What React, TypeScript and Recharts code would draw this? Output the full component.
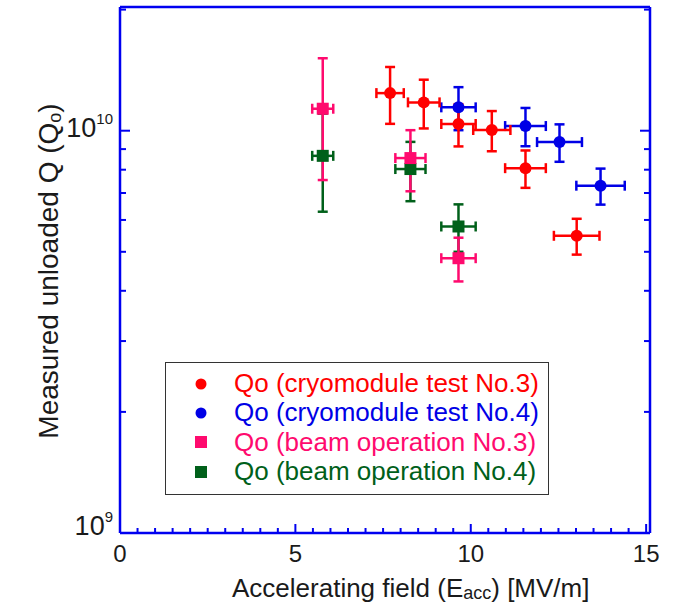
import React from 'react';
import { ScatterChart, Scatter, XAxis, YAxis, ErrorBar, Legend } from 'recharts';

// Qo (cryomodule test No.3)
const cryo3X = [7.7, 8.66, 9.65, 10.6, 11.56, 13.02];
const cryo3Q = [1.24e10, 1.176e10, 1.039e10, 1.004e10, 8.07e9, 5.48e9];
const cryo3Ex = [0.39, 0.45, 0.49, 0.53, 0.58, 0.65];
const cryo3Eq = [2.0e9, 1.63e9, 1.25e9, 1.15e9, 0.86e9, 0.56e9];

// Qo (cryomodule test No.4)
const cryo4X = [9.65, 11.56, 12.53, 13.7];
const cryo4Q = [1.143e10, 1.027e10, 9.37e9, 7.3e9];
const cryo4Ex = [0.49, 0.58, 0.64, 0.69];
const cryo4Eq = [1.4e9, 1.12e9, 1.0e9, 0.75e9];

// Qo (beam operation No.3)
const beam3X = [5.78, 8.28, 9.65];
const beam3Q = [1.134e10, 8.55e9, 4.82e9];
const beam3Ex = [0.3, 0.43, 0.49];
const beam3Eq = [3.8e9, 1.48e9, 0.6e9];

// Qo (beam operation No.4)
const beam4X = [5.78, 8.28, 9.65];
const beam4Q = [8.66e9, 8.03e9, 5.78e9];
const beam4Ex = [0.3, 0.43, 0.49];
const beam4Eq = [2.37e9, 1.35e9, 0.78e9];

const xTicks = [0, 0.5, 1, 1.5, 2, 2.5, 3, 3.5, 4, 4.5, 5, 5.5, 6, 6.5, 7, 7.5, 8, 8.5, 9, 9.5, 10, 10.5, 11, 11.5, 12, 12.5, 13, 13.5, 14, 14.5, 15];
const xLabels = [0, 5, 10, 15];
const yTicks = [1e9, 2e9, 3e9, 4e9, 5e9, 6e9, 7e9, 8e9, 9e9, 1e10, 2e10];
const yLabels = [1e9, 1e10];

const seriesNames = [
  'Qo (cryomodule test No.3)',
  'Qo (cryomodule test No.4)',
  'Qo (beam operation No.3)',
  'Qo (beam operation No.4)',
];

const RED = '#ff0000';
const BLUE = '#0000e6';
const PINK = '#ff0a6e';
const GREEN = '#00601a';
const AXIS = '#0000f0';
const TEXT = '#1a1a1a';
const FONT = 'Arial, "Liberation Sans", sans-serif';

const build = (xs: number[], qs: number[], exs: number[], eqs: number[]) =>
  xs.map((x, i) => ({ x, y: qs[i], ex: exs[i], ey: eqs[i] }));

const cryo3 = build(cryo3X, cryo3Q, cryo3Ex, cryo3Eq);
const cryo4 = build(cryo4X, cryo4Q, cryo4Ex, cryo4Eq);
const beam3 = build(beam3X, beam3Q, beam3Ex, beam3Eq);
const beam4 = build(beam4X, beam4Q, beam4Ex, beam4Eq);

const XTick = (props: any) => {
  const { x, y, payload } = props;
  const v = payload.value;
  const major = xLabels.includes(v);
  const len = major ? 9 : 5;
  return (
    <g>
      {v > 0 ? <line x1={x} x2={x} y1={y} y2={y - len} stroke={AXIS} strokeWidth={2} /> : null}
      {major ? (
        <text x={x} y={y + 29} textAnchor="middle" fontSize={24} fill={TEXT} fontFamily={FONT}>
          {v}
        </text>
      ) : null}
    </g>
  );
};

const YTickL = (props: any) => {
  const { x, y, payload } = props;
  const v = payload.value;
  const major = yLabels.includes(v);
  const len = major ? 10 : 6;
  const exp = Math.round(Math.log10(v));
  return (
    <g>
      {v > 1e9 ? <line x1={x} x2={x + len} y1={y} y2={y} stroke={AXIS} strokeWidth={2} /> : null}
      {major ? (
        <text x={x - 7} y={y + (v === 1e9 ? 2 : 6)} textAnchor="end" fontSize={27} fill={TEXT} fontFamily={FONT}>
          10
          <tspan dy={-13} fontSize={15}>{exp}</tspan>
        </text>
      ) : null}
    </g>
  );
};

const YTickR = (props: any) => {
  const { x, y, payload } = props;
  const v = payload.value;
  const major = yLabels.includes(v);
  const len = major ? 10 : 6;
  return <g>{v > 1e9 ? <line x1={x} x2={x - len} y1={y} y2={y} stroke={AXIS} strokeWidth={2} /> : null}</g>;
};

const Circle = (color: string) => (props: any) => (
  <circle cx={props.cx} cy={props.cy} r={6} fill={color} />
);
const Square = (color: string) => (props: any) => (
  <rect x={props.cx - 6} y={props.cy - 6} width={12} height={12} fill={color} />
);

const XTitle = (props: any) => {
  const { x, y } = props.viewBox;
  return (
    <text x={x + 112} y={y + 64} fontSize={26} fill={TEXT} fontFamily={FONT}>
      Accelerating field (E
      <tspan fontSize={18} dy={2}>acc</tspan>
      <tspan dy={-2}>) [MV/m]</tspan>
    </text>
  );
};

const YTitle = (props: any) => {
  const { y, height } = props.viewBox;
  const cx = 58;
  const cy = y + height / 2 + 1;
  return (
    <text x={cx} y={cy} transform={`rotate(-90 ${cx} ${cy})`} textAnchor="middle" fontSize={28} fill={TEXT} fontFamily={FONT}>
      Measured unloaded Q (Q
      <tspan fontSize={18} dy={3}>o</tspan>
      <tspan dy={-3}>)</tspan>
    </text>
  );
};

const legendItems = [
  { name: seriesNames[0], color: RED, shape: 'circle' },
  { name: seriesNames[1], color: BLUE, shape: 'circle' },
  { name: seriesNames[2], color: PINK, shape: 'square' },
  { name: seriesNames[3], color: GREEN, shape: 'square' },
];

const LegendBox = () => (
  <div
    style={{
      width: 384,
      height: 133,
      boxSizing: 'border-box',
      border: '1.5px solid #333',
      background: '#fff',
      paddingTop: 6,
      fontFamily: FONT,
    }}
  >
    {legendItems.map((it) => (
      <div key={it.name} style={{ display: 'flex', alignItems: 'center', height: 29.3 }}>
        <svg width={68} height={20} style={{ flex: 'none' }}>
          {it.shape === 'circle' ? (
            <circle cx={35} cy={10} r={5.5} fill={it.color} />
          ) : (
            <rect x={29} y={4} width={12} height={12} fill={it.color} />
          )}
        </svg>
        <span style={{ color: it.color, fontSize: 26, whiteSpace: 'nowrap', lineHeight: '29px' }}>{it.name}</span>
      </div>
    ))}
  </div>
);

export default function App() {
  return (
    <div style={{ position: 'absolute', left: 0, top: 0, width: 679, height: 615, background: '#fff' }}>
      <ScatterChart width={679} height={615} margin={{ top: 0, right: 0, bottom: 0, left: 0 }}>
        <XAxis
          xAxisId="top"
          orientation="top"
          type="number"
          dataKey="x"
          domain={[0, 15.11]}
          allowDataOverflow
          height={7}
          tick={false}
          tickLine={false}
          axisLine={{ stroke: AXIS, strokeWidth: 2.5 }}
        />
        <XAxis
          type="number"
          dataKey="x"
          domain={[0, 15.11]}
          allowDataOverflow
          ticks={xTicks}
          interval={0}
          height={82}
          tickSize={0}
          tickMargin={0}
          tickLine={false}
          tick={<XTick />}
          axisLine={{ stroke: AXIS, strokeWidth: 2.5 }}
          label={{ content: <XTitle /> }}
        />
        <YAxis
          type="number"
          dataKey="y"
          scale="log"
          domain={[1e9, 2.03e10]}
          allowDataOverflow
          ticks={yTicks}
          interval={0}
          width={120}
          tickSize={0}
          tickMargin={0}
          tickLine={false}
          tick={<YTickL />}
          axisLine={{ stroke: AXIS, strokeWidth: 2.5 }}
          label={{ content: <YTitle /> }}
        />
        <YAxis
          yAxisId="right"
          orientation="right"
          type="number"
          dataKey="y"
          scale="log"
          domain={[1e9, 2.03e10]}
          allowDataOverflow
          ticks={yTicks}
          interval={0}
          width={29}
          tickSize={0}
          tickMargin={0}
          tickLine={false}
          tick={<YTickR />}
          axisLine={{ stroke: AXIS, strokeWidth: 2.5 }}
        />
        <Legend
          layout="vertical"
          align="center"
          verticalAlign="middle"
          content={<LegendBox />}
          wrapperStyle={{ left: 165, top: 362, width: 384, height: 133 }}
        />
        <Scatter name={seriesNames[1]} data={cryo4} fill={BLUE} shape={Circle(BLUE)} isAnimationActive={false}>
          <ErrorBar dataKey="ey" direction="y" stroke={BLUE} strokeWidth={2.5} width={5} />
          <ErrorBar dataKey="ex" direction="x" stroke={BLUE} strokeWidth={2.5} width={5} />
        </Scatter>
        <Scatter name={seriesNames[0]} data={cryo3} fill={RED} shape={Circle(RED)} isAnimationActive={false}>
          <ErrorBar dataKey="ey" direction="y" stroke={RED} strokeWidth={2.5} width={5} />
          <ErrorBar dataKey="ex" direction="x" stroke={RED} strokeWidth={2.5} width={5} />
        </Scatter>
        <Scatter name={seriesNames[3]} data={beam4} fill={GREEN} shape={Square(GREEN)} isAnimationActive={false}>
          <ErrorBar dataKey="ey" direction="y" stroke={GREEN} strokeWidth={2.5} width={5} />
          <ErrorBar dataKey="ex" direction="x" stroke={GREEN} strokeWidth={2.5} width={5} />
        </Scatter>
        <Scatter name={seriesNames[2]} data={beam3} fill={PINK} shape={Square(PINK)} isAnimationActive={false}>
          <ErrorBar dataKey="ey" direction="y" stroke={PINK} strokeWidth={2.5} width={5} />
          <ErrorBar dataKey="ex" direction="x" stroke={PINK} strokeWidth={2.5} width={5} />
        </Scatter>
      </ScatterChart>
    </div>
  );
}
